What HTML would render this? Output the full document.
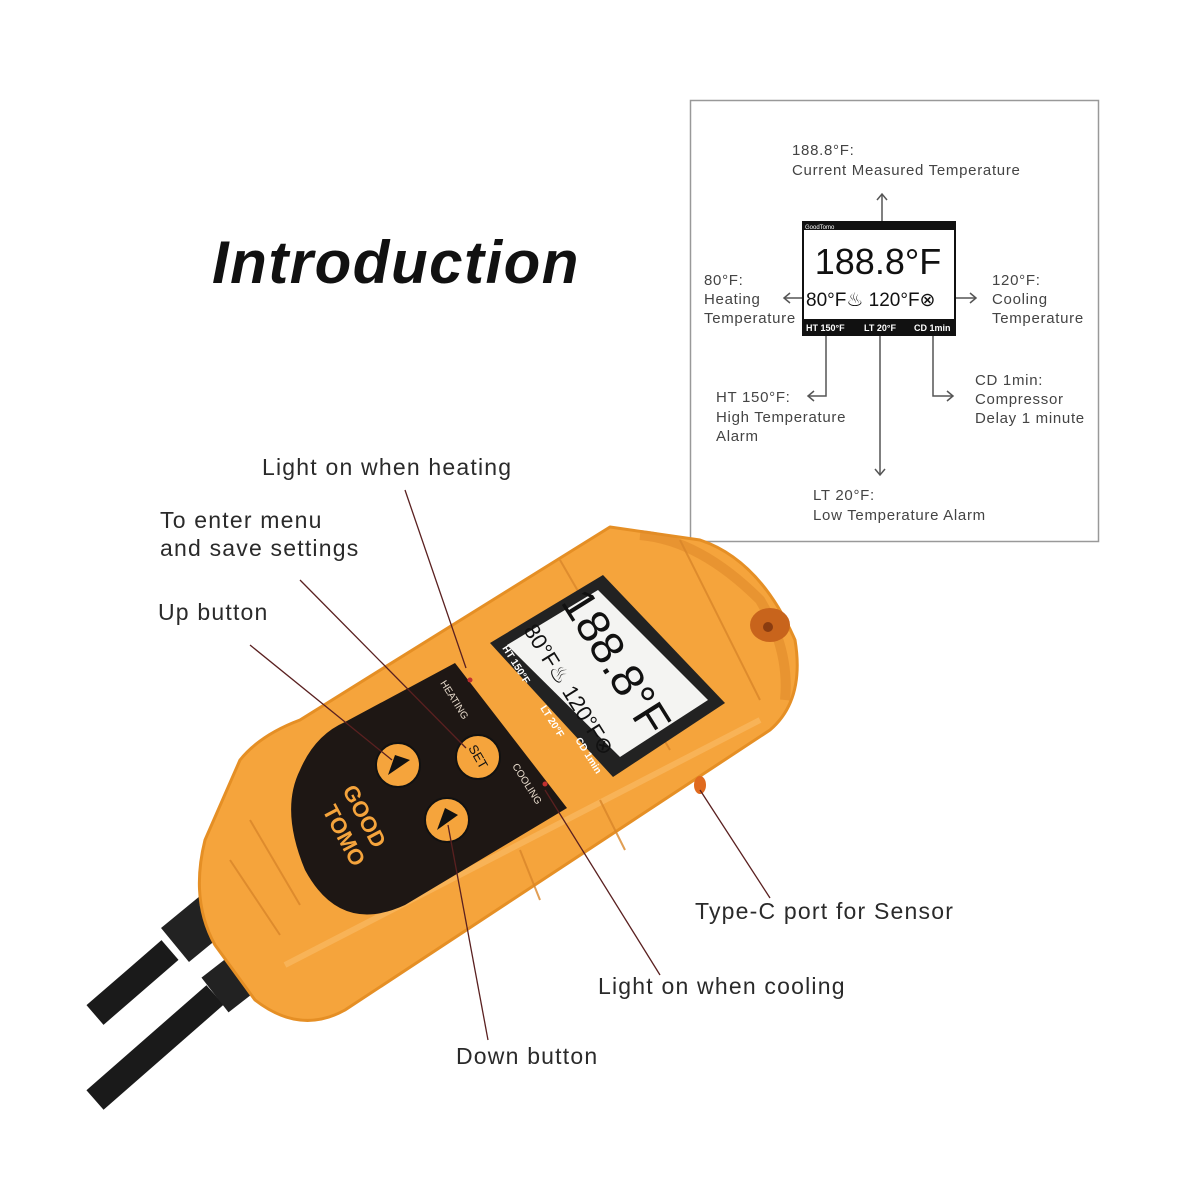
<!DOCTYPE html>
<html><head><meta charset="utf-8"><style>
html,body{margin:0;padding:0;background:#fff;}
svg{display:block}
</style></head><body>
<svg width="1200" height="1200" viewBox="0 0 1200 1200" xmlns="http://www.w3.org/2000/svg" font-family="Liberation Sans, sans-serif">
<rect width="1200" height="1200" fill="#fff"/>
<!-- Title -->
<text x="212" y="283" font-size="60" font-weight="bold" font-style="italic" fill="#111" letter-spacing="1.5">Introduction</text>

<!-- Diagram box -->
<rect x="690.5" y="100.5" width="408" height="441" fill="#fff" stroke="#999" stroke-width="1.5"/>
<g fill="#444" font-size="15" letter-spacing="0.7">
<text x="792" y="155">188.8°F:</text>
<text x="792" y="175">Current Measured Temperature</text>
<text x="704" y="285">80°F:</text>
<text x="704" y="304">Heating</text>
<text x="704" y="323">Temperature</text>
<text x="992" y="285">120°F:</text>
<text x="992" y="304">Cooling</text>
<text x="992" y="323">Temperature</text>
<text x="716" y="402">HT 150°F:</text>
<text x="716" y="422">High Temperature</text>
<text x="716" y="441">Alarm</text>
<text x="975" y="385">CD 1min:</text>
<text x="975" y="404">Compressor</text>
<text x="975" y="423">Delay 1 minute</text>
<text x="813" y="500">LT 20°F:</text>
<text x="813" y="520">Low Temperature Alarm</text>
</g>
<g stroke="#555" stroke-width="1.5" fill="none">
<line x1="882" y1="195" x2="882" y2="240"/><polyline points="877,200 882,194 887,200"/>
<line x1="784" y1="298" x2="805" y2="298"/><polyline points="790,293 784,298 790,303"/>
<line x1="955" y1="298" x2="976" y2="298"/><polyline points="970,293 976,298 970,303"/>
<polyline points="826,335 826,396 808,396"/><polyline points="814,391 808,396 814,401"/>
<line x1="880" y1="335" x2="880" y2="475"/><polyline points="875,469 880,475 885,469"/>
<polyline points="933,335 933,396 953,396"/><polyline points="947,391 953,396 947,401"/>
</g>
<rect x="803" y="222" width="152" height="113" fill="#fff" stroke="#111" stroke-width="2"/>
<rect x="803" y="222" width="152" height="8" fill="#111"/>
<text x="805" y="229" font-size="6" fill="#fff">GoodTomo</text>
<rect x="803" y="319" width="152" height="16" fill="#111"/>
<g fill="#fff" font-size="9" font-weight="bold"><text x="806" y="331">HT 150°F</text><text x="864" y="331">LT 20°F</text><text x="914" y="331">CD 1min</text></g>
<text x="878" y="274" font-size="36" text-anchor="middle" fill="#111">188.8°F</text>
<text x="806" y="306" font-size="19" fill="#111">80°F♨ 120°F⊗</text>

<!-- cables -->
<g>
<path d="M170,950 L95,1015" stroke="#1a1a1a" stroke-width="26" fill="none"/>
<path d="M215,995 L95,1100" stroke="#1a1a1a" stroke-width="26" fill="none"/>
<path d="M248,885 L175,945" stroke="#222" stroke-width="44" fill="none"/>
<path d="M292,935 L215,995" stroke="#222" stroke-width="44" fill="none"/>
<g stroke="#444" stroke-width="2">
<line x1="200" y1="905" x2="225" y2="935"/><line x1="215" y1="892" x2="240" y2="922"/><line x1="230" y1="880" x2="255" y2="910"/>
<line x1="245" y1="955" x2="270" y2="985"/><line x1="260" y1="943" x2="285" y2="973"/><line x1="275" y1="931" x2="300" y2="961"/>
</g>
</g>

<!-- device body -->
<path d="M610,527 L700,540 Q760,560 795,640 Q805,700 770,730 L345,1010 Q300,1035 255,1000 L215,945 Q190,900 205,840 L240,760 Q260,735 300,720 Z" fill="#f5a43c" stroke="#e58f25" stroke-width="3" stroke-linejoin="round"/>
<path d="M640,535 Q700,540 760,600 Q790,650 785,700" fill="none" stroke="#e08a2a" stroke-width="10" opacity=".6"/>
<path d="M285,965 L760,720" stroke="#fbbd6a" stroke-width="6" opacity=".6"/>
<g stroke="#d9862a" stroke-width="2" fill="none" opacity=".8">
<line x1="250" y1="820" x2="300" y2="905"/><line x1="280" y1="935" x2="230" y2="860"/>
<line x1="560" y1="560" x2="670" y2="750"/><line x1="680" y1="540" x2="760" y2="700"/>
<line x1="520" y1="850" x2="540" y2="900"/><line x1="600" y1="800" x2="625" y2="850"/>
</g>
<!-- keypad -->
<path d="M455,663 L567,808 L405,905 Q340,935 305,870 Q280,810 300,770 Q315,735 345,722 Z" fill="#1e1714"/>
<!-- screen -->
<polygon points="490,643 603,575 725,703 613,777" fill="#222"/>
<polygon points="507,645 598,590 708,700 620,757" fill="#f4f4f2"/>
<text transform="translate(560,602) rotate(58)" font-size="46" fill="#111">188.8°F</text>
<text transform="translate(523,630) rotate(58)" font-size="22" fill="#111">80°F♨ 120°F⊗</text>
<g fill="#fff" font-size="10" font-weight="bold">
<text transform="translate(502,648) rotate(58)">HT 150°F</text>
<text transform="translate(540,708) rotate(58)">LT 20°F</text>
<text transform="translate(575,740) rotate(58)">CD 1min</text>
</g>
<!-- hanging tab -->
<ellipse cx="770" cy="625" rx="20" ry="17" fill="#c8641c"/><circle cx="768" cy="627" r="5" fill="#8a3c10"/>
<!-- port -->
<ellipse cx="700" cy="785" rx="6" ry="9" fill="#e06a1e"/>
<!-- buttons -->
<g fill="#f5a43c" stroke="#111" stroke-width="2">
<circle cx="398" cy="765" r="22"/><circle cx="478" cy="757" r="22"/><circle cx="447" cy="820" r="22"/>
</g>
<path d="M388,775 L410,760 L395,755 Z" fill="#111"/>
<path d="M437,830 L458,815 L445,808 Z" fill="#111"/>
<text transform="translate(468,748) rotate(60)" font-size="13" fill="#111">SET</text>
<g fill="#e8dccd" font-size="10">
<text transform="translate(440,683) rotate(58)">HEATING</text>
<text transform="translate(512,766) rotate(58)">COOLING</text>
</g>
<text transform="translate(342,790) rotate(62)" font-size="22" font-weight="bold" fill="#f5a43c">GOOD</text>
<text transform="translate(322,810) rotate(62)" font-size="22" font-weight="bold" fill="#f5a43c">TOMO</text>
<circle cx="470" cy="680" r="2.5" fill="#c03030"/><circle cx="545" cy="784" r="2.5" fill="#c03030"/>

<!-- leader lines -->
<g stroke="#5a2020" stroke-width="1.3" fill="none">
<line x1="405" y1="490" x2="466" y2="668"/>
<line x1="300" y1="580" x2="466" y2="748"/>
<line x1="250" y1="645" x2="392" y2="760"/>
<line x1="700" y1="790" x2="770" y2="898"/>
<line x1="545" y1="790" x2="660" y2="975"/>
<line x1="448" y1="825" x2="488" y2="1040"/>
</g>
<!-- labels -->
<g fill="#2a2a2a" font-size="23" letter-spacing="1.2">
<text x="262" y="475">Light on when heating</text>
<text x="160" y="528">To enter menu</text>
<text x="160" y="556">and save settings</text>
<text x="158" y="620">Up button</text>
<text x="695" y="919">Type-C port for Sensor</text>
<text x="598" y="994">Light on when cooling</text>
<text x="456" y="1064">Down button</text>
</g>
</svg>
</body></html>
